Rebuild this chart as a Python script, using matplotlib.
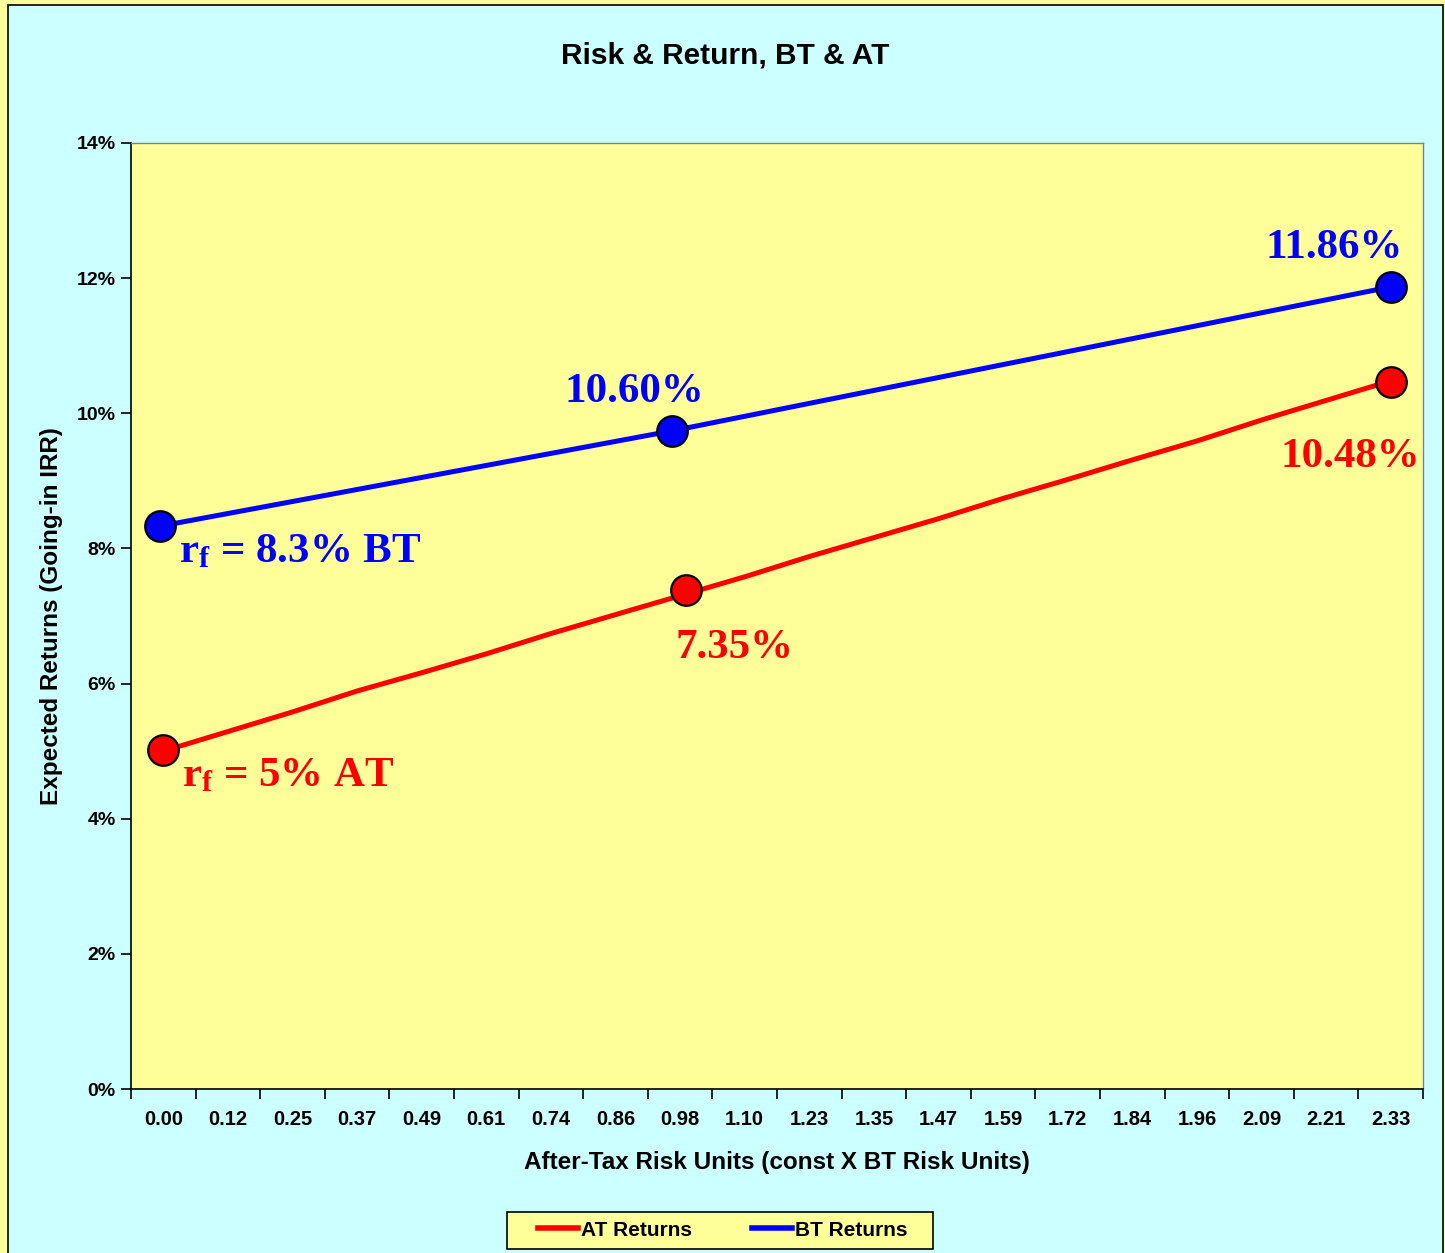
import matplotlib.pyplot as plt
from matplotlib.patches import Rectangle
from matplotlib.ticker import FixedLocator, FuncFormatter

# category labels on the x axis (after-tax risk units)
risk_units = ["0.00", "0.12", "0.25", "0.37", "0.49", "0.61", "0.74", "0.86", "0.98", "1.10",
              "1.23", "1.35", "1.47", "1.59", "1.72", "1.84", "1.96", "2.09", "2.21", "2.33"]

# AT returns line, one value per category (%)
at_returns = [5.00, 5.29, 5.58, 5.89, 6.16, 6.44, 6.74, 7.02, 7.30, 7.58,
              7.88, 8.16, 8.44, 8.74, 9.02, 9.31, 9.59, 9.90, 10.19, 10.48]

# highlighted points (risk units, %)
at_pts_x = [0.0, 0.992, 2.33]
at_pts_y = [5.02, 7.38, 10.46]
bt_pts_x = [-0.006, 0.966, 2.33]
bt_pts_y = [8.33, 9.74, 11.87]

at_labels = [r"$\mathbf{r_f}$ = 5% AT", "7.35%", "10.48%"]
bt_labels = [r"$\mathbf{r_f}$ = 8.3% BT", "10.60%", "11.86%"]

RED = "#FF0000"
BLUE = "#0000FF"
YELLOW = "#FFFF99"
CYAN = "#CCFFFF"

plt.rcParams["mathtext.fontset"] = "custom"
plt.rcParams["mathtext.bf"] = "Liberation Serif:bold"
plt.rcParams["mathtext.rm"] = "Liberation Serif:bold"

W, H = 1445, 1253
fig = plt.figure(figsize=(W / 100, H / 100), dpi=100, facecolor=YELLOW)
fig.patches.append(Rectangle((8 / W, -0.01), 1435 / W, 1 - 5 / H + 0.01,
                             transform=fig.transFigure, facecolor=CYAN,
                             edgecolor="black", linewidth=1.2, zorder=-10))
# legend box
fig.patches.append(Rectangle((507 / W, 1 - 1249 / H), 426 / W, 37 / H,
                             transform=fig.transFigure, facecolor=YELLOW,
                             edgecolor="black", linewidth=1.2, zorder=-5))

ax = fig.add_axes([131 / W, 1 - 1089 / H, 1292 / W, 946 / H])
ax.set_facecolor(YELLOW)

step = 2.33 / (len(risk_units) - 1)
idx = list(range(len(risk_units)))

ax.plot(idx, at_returns, color=RED, lw=3.6, label="AT Returns", zorder=3)
bt_ix = [x / step for x in bt_pts_x]
at_ix = [x / step for x in at_pts_x]
ax.plot(bt_ix, bt_pts_y, color=BLUE, lw=3.6, label="BT Returns", zorder=3)

ax.plot(at_ix, at_pts_y, ls="none", marker="o", ms=22, mfc=RED, mec="black", mew=1.6, zorder=4)
ax.plot(bt_ix, bt_pts_y, ls="none", marker="o", ms=22, mfc=BLUE, mec="black", mew=1.6, zorder=4)

# label offsets in pixels from each point
at_off = [(19, -37), (-10, -68), (-110, -85)]
bt_off = [(19, -36), (-108, 29), (-125, 29)]
for xs, ys, labs, offs, c in [(at_ix, at_pts_y, at_labels, at_off, RED),
                              (bt_ix, bt_pts_y, bt_labels, bt_off, BLUE)]:
    for x, y, t, o in zip(xs, ys, labs, offs):
        ax.annotate(t, (x, y), xytext=o, textcoords="offset pixels",
                    ha="left", va="baseline", color=c, fontsize=31,
                    fontfamily="Liberation Serif", fontweight="bold", zorder=5)

ax.set_xlim(-0.5, len(risk_units) - 0.5)
ax.set_ylim(0, 14)

ax.xaxis.set_major_locator(FixedLocator(idx))
ax.set_xticklabels(risk_units)
ax.xaxis.set_minor_locator(FixedLocator([i - 0.5 for i in range(len(risk_units) + 1)]))
ax.tick_params(axis="x", which="major", length=0, pad=15, labelsize=14.5)
ax.tick_params(axis="x", which="minor", length=7, width=1.2, direction="out")
ax.set_yticks(range(0, 15, 2))
ax.yaxis.set_major_formatter(FuncFormatter(lambda v, p: "%d%%" % v))
ax.tick_params(axis="y", length=7, width=1.2, direction="out", labelsize=14, pad=4)
for lab in ax.get_xticklabels() + ax.get_yticklabels():
    lab.set_fontfamily("Liberation Sans")
    lab.set_fontweight("bold")

for s in ["left", "bottom"]:
    ax.spines[s].set_color("black")
    ax.spines[s].set_linewidth(1.2)
for s in ["top", "right"]:
    ax.spines[s].set_color("#808080")
    ax.spines[s].set_linewidth(1.0)

ax.set_xlabel("After-Tax Risk Units (const X BT Risk Units)", fontsize=17.5,
              fontfamily="Liberation Sans", fontweight="bold", labelpad=16)
ax.set_ylabel("Expected Returns (Going-in IRR)", fontsize=17.5,
              fontfamily="Liberation Sans", fontweight="bold", labelpad=10)
fig.text(725 / W, 1 - 56 / H, "Risk & Return, BT & AT", ha="center", va="center",
         fontsize=21.5, fontfamily="Liberation Sans", fontweight="bold")

leg = fig.legend(loc="center", bbox_to_anchor=(723 / W, 1 - 1230 / H), ncol=2,
                 frameon=False, handlelength=1.9, handletextpad=0.15, columnspacing=2.9,
                 borderpad=0.2, borderaxespad=0,
                 prop={"family": "Liberation Sans", "weight": "bold", "size": 15})
for h in leg.get_lines():
    h.set_linewidth(4)

fig.savefig("out.png", dpi=100, facecolor=YELLOW)
